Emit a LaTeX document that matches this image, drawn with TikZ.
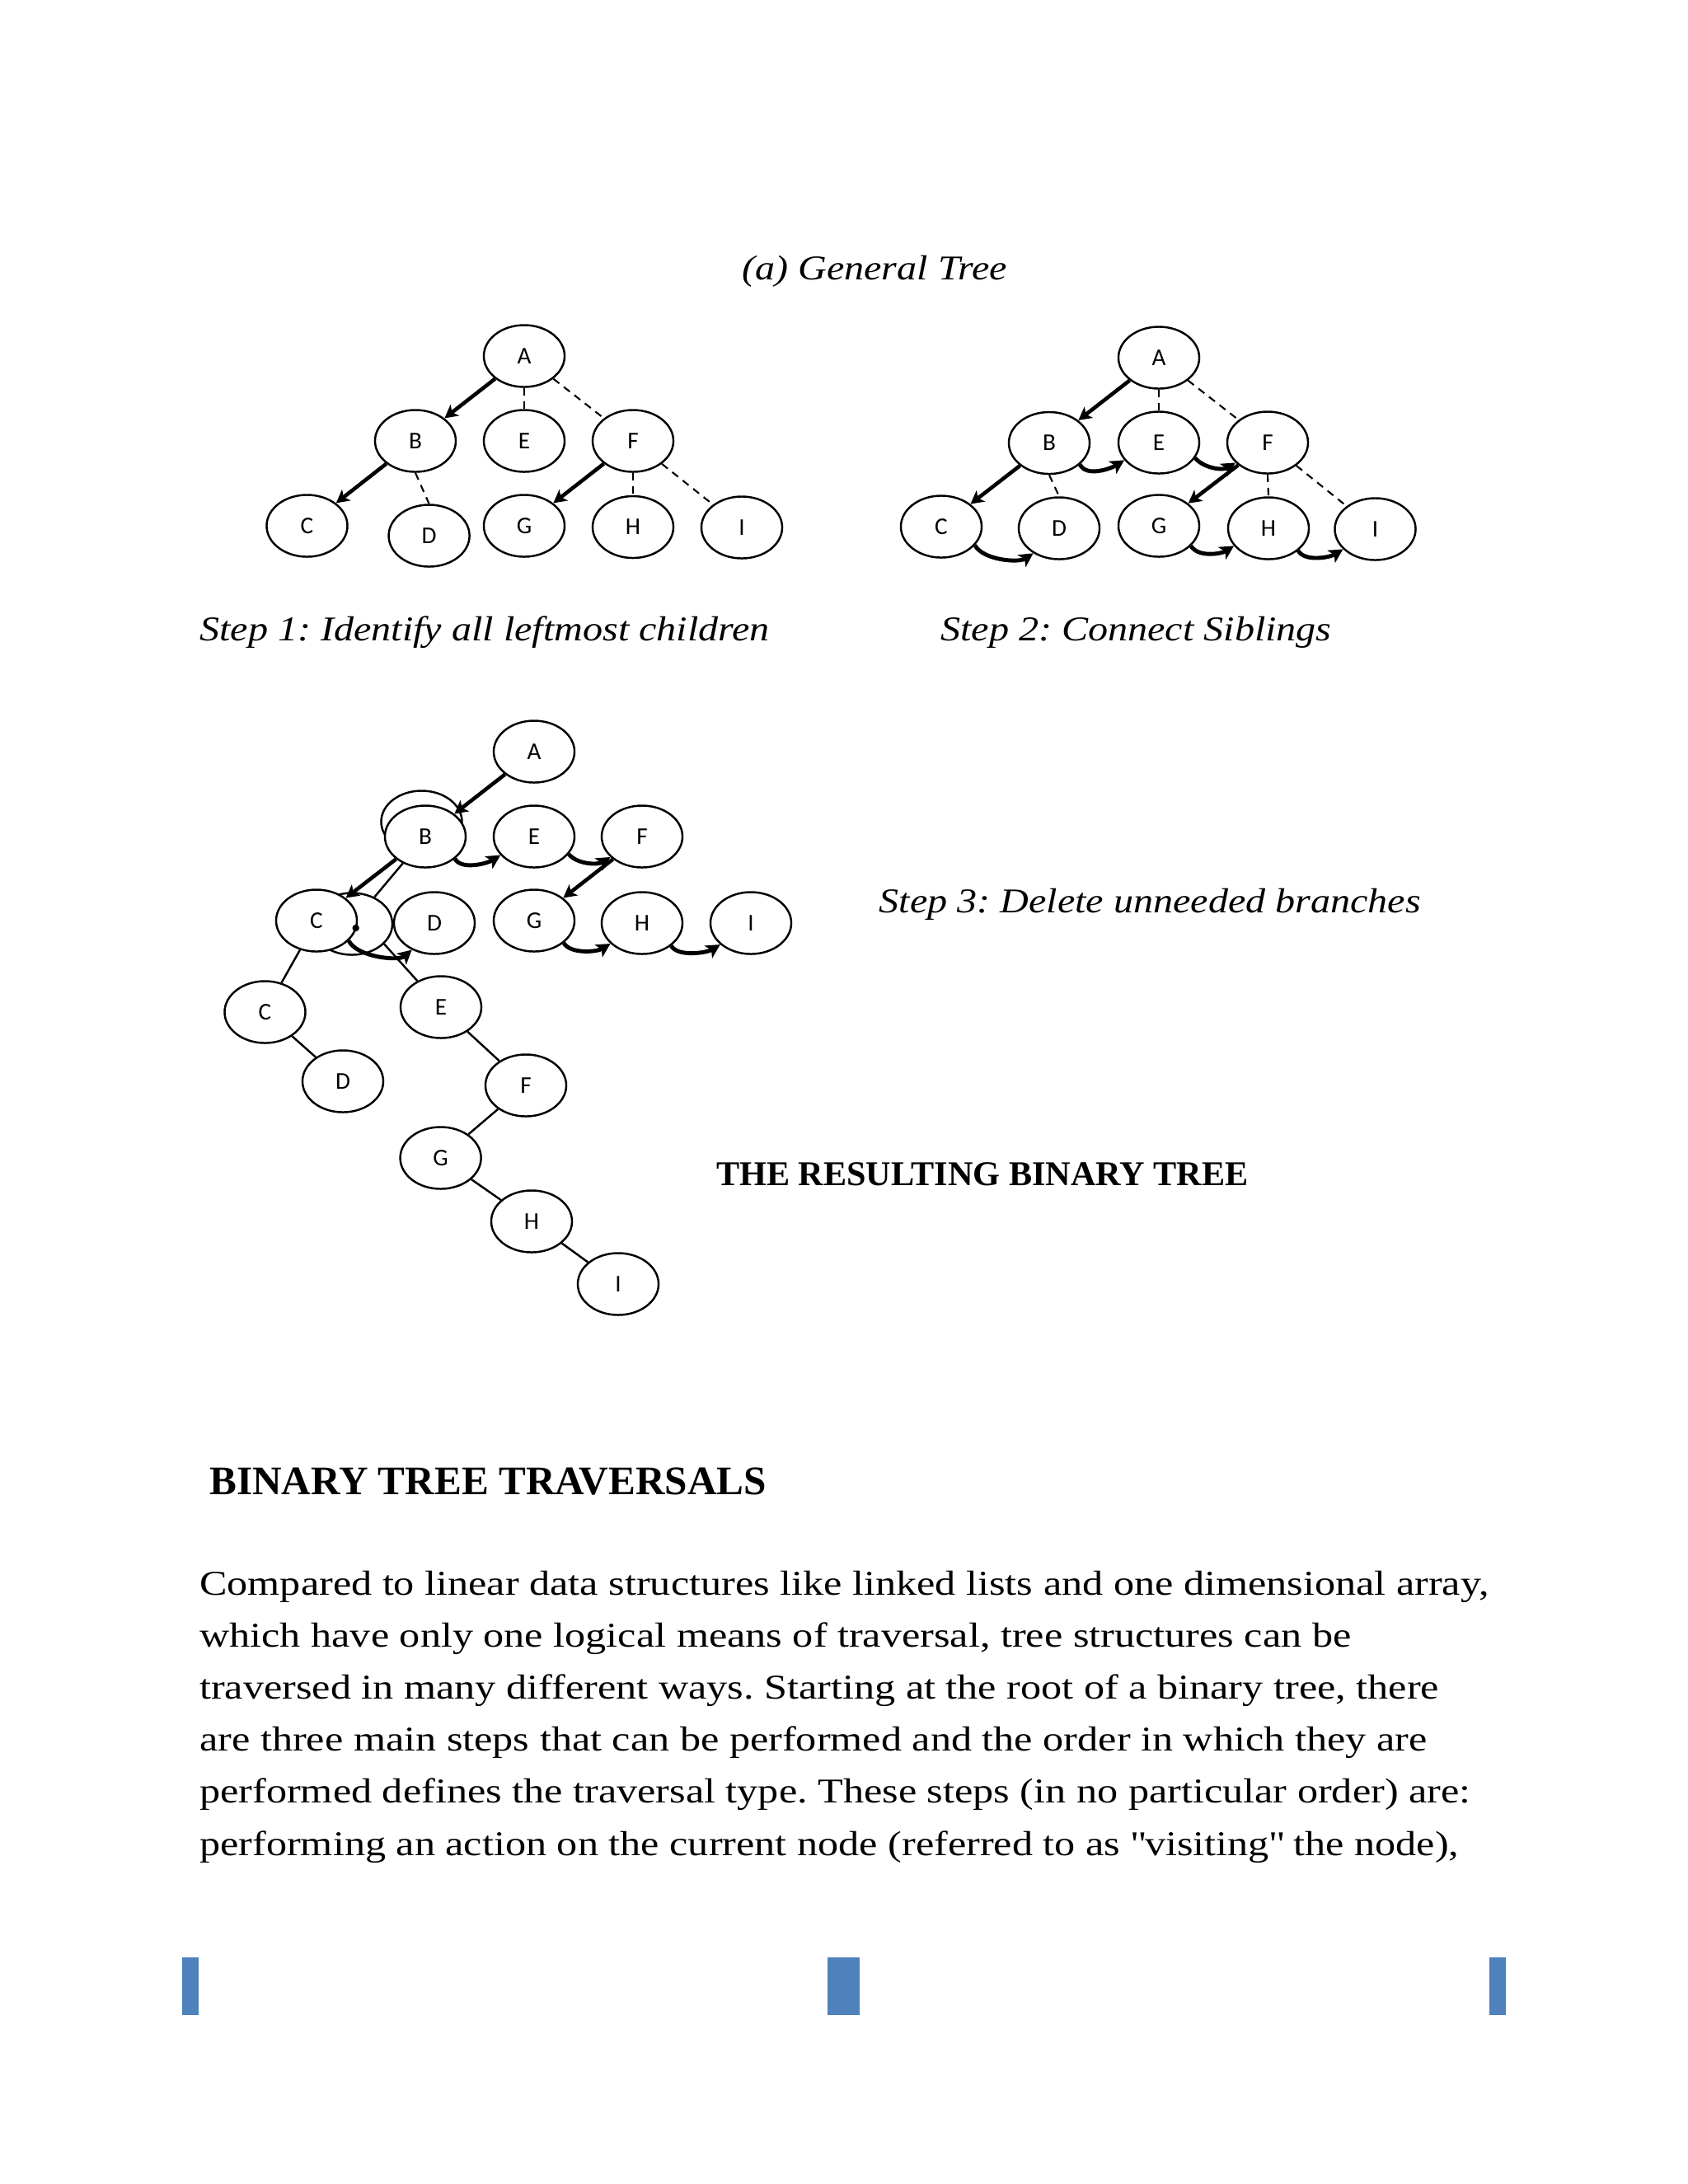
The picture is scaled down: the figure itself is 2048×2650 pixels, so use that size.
\documentclass[tikz,border=0pt]{standalone}
\usepackage{fontspec}
\setmainfont{Liberation Serif}[FakeStretch=1.19]
\newfontfamily\capfont{Liberation Serif}[FakeStretch=1.14]
\newfontfamily\headfont{Liberation Serif}[FakeStretch=1.0]
\newfontfamily\labelfont{Carlito}
\usetikzlibrary{arrows.meta,shapes.geometric}
\definecolor{barblue}{HTML}{4F81BD}
\newcommand\strq{{\XeTeXglyph\XeTeXcharglyph"22\relax}}
\frenchspacing
\tikzset{
  tnode/.style={ellipse, draw, line width=0.7pt, fill=white, minimum width=0.98cm, minimum height=0.75cm, inner sep=0pt, font=\labelfont\fontsize{8.3}{10}\selectfont},
  ghost/.style={ellipse, draw, line width=0.7pt, minimum width=0.98cm, minimum height=0.75cm, inner sep=0pt},
  arr/.style={line width=1.3pt, -{Stealth[length=4.5pt,width=4.8pt,inset=1.2pt]}},
  sib/.style={line width=1.4pt, -{Stealth[length=4.8pt,width=5pt,inset=1.2pt]}},
  dsh/.style={line width=0.6pt, dash pattern=on 2.6pt off 2pt},
  thinln/.style={line width=0.7pt},
  txt/.style={inner sep=0pt, font=\fontsize{12}{14}\selectfont},
  captxt/.style={inner sep=0pt, font=\capfont\itshape\fontsize{12}{14}\selectfont},
  headtxt/.style={inner sep=0pt, font=\headfont\bfseries\fontsize{12}{14}\selectfont},
}
\begin{document}
\begin{tikzpicture}[x=0.01cm,y=-0.01cm]
\fill[white] (0,0) rectangle (2048,2650);
\useasboundingbox (0,0) rectangle (2048,2650);

% ---------- titles ----------
\node[captxt, anchor=base] (t0) at (1061,339.6) {(a) General Tree};
\node[captxt, anchor=base west] (t1) at (241.6,777) {Step 1: Identify all leftmost children};
\node[captxt, anchor=base west] (t2) at (1140.6,777) {Step 2: Connect Siblings};
\node[captxt, anchor=base west] (t3) at (1066,1107) {Step 3: Delete unneeded branches};
\node[headtxt, anchor=base west] (t4) at (868.5,1438) {THE RESULTING BINARY TREE};
\node[headtxt, anchor=base west, font=\headfont\bfseries\fontsize{14}{16}\selectfont] (t5) at (253.5,1813) {BINARY TREE TRAVERSALS};

% ---------- body ----------
\node[txt, anchor=base west] (b1) at (241.6,1935) {Compared to linear data structures like linked lists and one dimensional array,};
\node[txt, anchor=base west] (b2) at (241.6,1998.2) {which have only one logical means of traversal, tree structures can be};
\node[txt, anchor=base west] (b3) at (241.6,2061.4) {traversed in many different ways. Starting at the root of a binary tree, there};
\node[txt, anchor=base west] (b4) at (241.6,2124.6) {are three main steps that can be performed and the order in which they are};
\node[txt, anchor=base west] (b5) at (241.6,2187.8) {performed defines the traversal type. These steps (in no particular order) are:};
\node[txt, anchor=base west] (b6) at (241.6,2251) {performing an action on the current node (referred to as \strq visiting\strq\ the node),};

% ---------- footer bars ----------
\fill[barblue] (221,2375) rectangle (241,2445);
\fill[barblue] (1004.3,2375) rectangle (1043.3,2445);
\fill[barblue] (1807.3,2375) rectangle (1826.7,2445);

% ---------- Step 1 ----------
\node[tnode] (A1) at (636,432) {A};
\node[tnode] (B1) at (504,535) {B};
\node[tnode] (E1) at (636,535) {E};
\node[tnode] (F1) at (768,535) {F};
\node[tnode] (C1) at (372.5,638) {C};
\node[tnode] (D1) at (520.6,650) {D};
\node[tnode] (G1) at (636,638) {G};
\node[tnode] (H1) at (768,639.5) {H};
\node[tnode] (I1) at (900,640) {I};
\draw[arr] (A1) -- (B1);
\draw[dsh] (A1.south) -- (E1.north);
\draw[dsh] (A1) -- (F1);
\draw[arr] (B1) -- (C1);
\draw[dsh] (B1.south) -- (D1.north);
\draw[arr] (F1) -- (G1);
\draw[dsh] (F1.south) -- (H1.north);
\draw[dsh] (F1) -- (I1);

% ---------- Step 2 ----------
\node[tnode] (A2) at (1406,434) {A};
\node[tnode] (B2) at (1273,537.5) {B};
\node[tnode] (E2) at (1406,537) {E};
\node[tnode] (F2) at (1538,537) {F};
\node[tnode] (C2) at (1142,639) {C};
\node[tnode] (D2) at (1285,641) {D};
\node[tnode] (G2) at (1406,638) {G};
\node[tnode] (H2) at (1539,641) {H};
\node[tnode] (I2) at (1668.5,642) {I};
\draw[arr] (A2) -- (B2);
\draw[dsh] (A2.south) -- (E2.north);
\draw[dsh] (A2) -- (F2);
\draw[arr] (B2) -- (C2);
\draw[dsh] (B2.south) -- (D2.north);
\draw[arr] (F2) -- (G2);
\draw[dsh] (F2.south) -- (H2.north);
\draw[dsh] (F2) -- (I2);
\draw[sib] (B2.-35) .. controls +(8,16) and +(-16,10) .. (E2.-153);
\draw[sib] (E2.-23) .. controls +(10,12) and +(-16,10) .. (F2.-148);
\draw[sib] (C2.-29) .. controls +(10,18) and +(-18,12) .. (D2.-136);
\draw[sib] (G2.-32) .. controls +(8,14) and +(-16,10) .. (H2.-153);
\draw[sib] (H2.-37) .. controls +(8,14) and +(-16,10) .. (I2.-148);

% ---------- Step 3 ----------
\node[ghost] (Bg3) at (511.5,997) {};
\node[ghost] (Dg3) at (427,1121) {};
\node[tnode] (A3) at (648,912) {A};
\node[tnode] (B3) at (516,1015) {B};
\node[tnode] (E3) at (648,1015) {E};
\node[tnode] (F3) at (779,1015) {F};
\node[tnode] (C3) at (384,1117) {C};
\node[tnode] (D3) at (527,1120) {D};
\node[tnode] (G3) at (648,1117) {G};
\node[tnode] (H3) at (779,1120) {H};
\node[tnode] (I3) at (911,1120) {I};
\draw[arr] (A3) -- (B3);
\draw[arr] (B3) -- (C3);
\draw[thinln] (B3) -- (Dg3);
\draw[arr] (F3) -- (G3);
\fill (431.7,1126) circle[radius=1.2pt];
\draw[sib] (B3.-37) .. controls +(8,14) and +(-16,10) .. (E3.-151);
\draw[sib] (E3.-27) .. controls +(10,12) and +(-16,10) .. (F3.-147);
\draw[sib] (C3.-32) .. controls +(10,20) and +(-16,14) .. (D3.-130);
\draw[sib] (G3.-37) .. controls +(8,14) and +(-16,10) .. (H3.-147);
\draw[sib] (H3.-38) .. controls +(8,14) and +(-16,10) .. (I3.-145);

% ---------- resulting binary tree ----------
\node[tnode] (Cb) at (321.5,1228) {C};
\node[tnode] (Db) at (416,1312) {D};
\node[tnode] (Eb) at (535,1222) {E};
\node[tnode] (Fb) at (638,1317) {F};
\node[tnode] (Gb) at (534.6,1405) {G};
\node[tnode] (Hb) at (645,1482) {H};
\node[tnode] (Ib) at (750,1558) {I};
\draw[thinln] (Cb) -- (C3);
\draw[thinln] (Dg3.-32) -- (Eb);
\draw[thinln] (Cb) -- (Db);
\draw[thinln] (Eb) -- (Fb);
\draw[thinln] (Fb) -- (Gb);
\draw[thinln] (Gb) -- (Hb);
\draw[thinln] (Hb) -- (Ib);
\end{tikzpicture}
\end{document}
